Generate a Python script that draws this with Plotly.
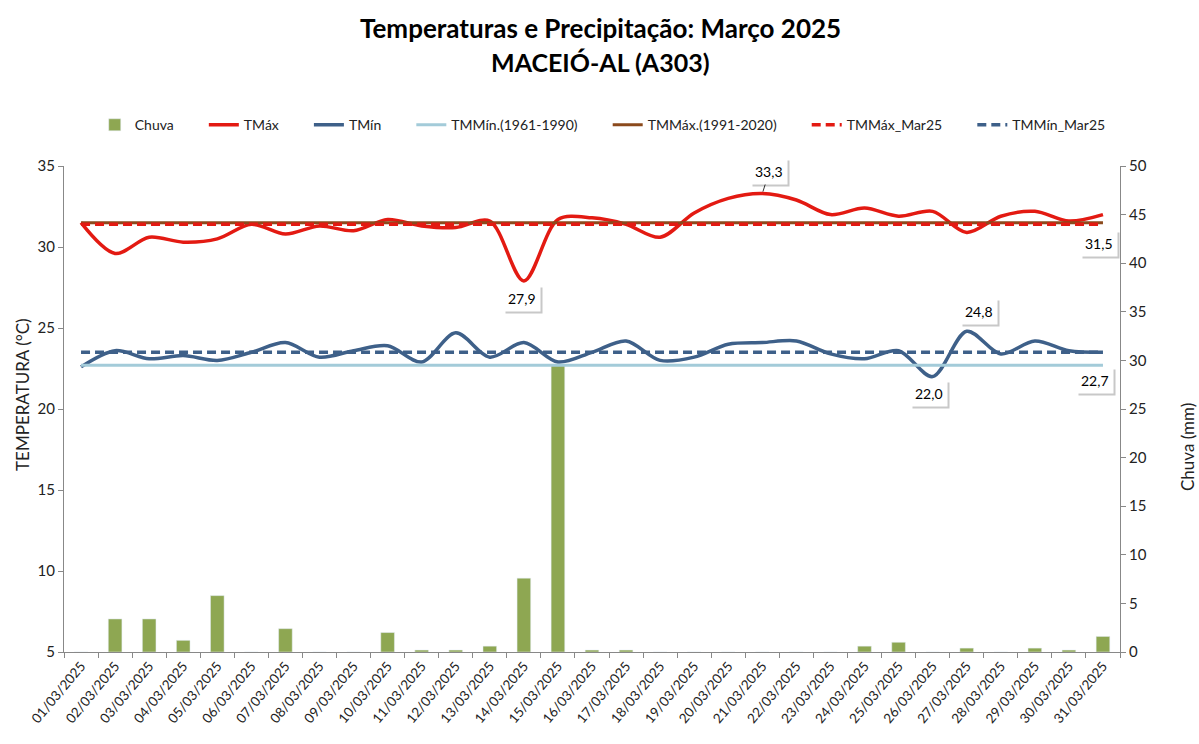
import plotly.graph_objects as go

dates = [f"{d:02d}/03/2025" for d in range(1, 32)]

chuva = [0, 3.4, 3.4, 1.2, 5.8, 0, 2.4, 0, 0, 2.0, 0.2, 0.2, 0.6, 7.6, 29.6,
         0.2, 0.2, 0, 0, 0, 0, 0, 0, 0.6, 1.0, 0, 0.4, 0, 0.4, 0.2, 1.6]

tmax = [31.5, 29.6, 30.6, 30.3, 30.5, 31.4, 30.8, 31.3, 31.0, 31.7, 31.3, 31.2, 31.6, 27.9, 31.7,
        31.8, 31.4, 30.6, 32.1, 33.0, 33.3, 32.9, 32.0, 32.4, 31.9, 32.2, 30.9, 31.9, 32.2, 31.6, 32.0]

tmin = [22.6, 23.6, 23.1, 23.3, 23.0, 23.5, 24.1, 23.2, 23.6, 23.9, 22.9, 24.7, 23.2, 24.1, 22.9,
        23.5, 24.2, 23.0, 23.2, 24.0, 24.1, 24.2, 23.4, 23.1, 23.6, 22.0, 24.8, 23.4, 24.2, 23.6, 23.5]

tmmin_6190 = [22.7] * 31
tmmax_9120 = [31.5] * 31
tmmax_mar25 = [31.4] * 31
tmmin_mar25 = [23.5] * 31

title_lines = ["Temperaturas e Precipitação: Março 2025", "MACEIÓ-AL (A303)"]

# labels: (index, text, series, xshift, yshift)
labels = [
    (13, "27,9", tmax, -2, -17),
    (25, "22,0", tmin, -4, -17),
    (26, "24,8", tmin, 12, 20),
    (30, "31,5", tmmax_9120, -4, -21),
    (30, "22,7", tmmin_6190, -8, -15),
]

FONT = "Lato, 'Open Sans', sans-serif"
NB = "\u00a0"

fig = go.Figure()

fig.add_trace(go.Bar(x=dates, y=chuva, name="Chuva" + NB * 7, marker_color="#8EA752",
                     width=0.4, yaxis="y"))

line_specs = [
    ("TMáx", tmax, "#E31A12", "solid", 3.5, "spline"),
    ("TMín", tmin, "#3E6089", "solid", 3.5, "spline"),
    ("TMMín.(1961-1990)", tmmin_6190, "#A3CBD9", "solid", 3, "linear"),
    ("TMMáx.(1991-2020)", tmmax_9120, "#8B4A1C", "solid", 3, "linear"),
    ("TMMáx_Mar25", tmmax_mar25, "#E31A12", "9px,5px", 3.5, "linear"),
    ("TMMín_Mar25", tmmin_mar25, "#3E6089", "9px,5px", 3.5, "linear"),
]
for name, vals, col, dash, w, shape in line_specs:
    fig.add_trace(go.Scatter(x=dates, y=vals, name=name + NB * 7, mode="lines",
                             line=dict(color=col, width=w, dash=dash, shape=shape,
                                       smoothing=0.9),
                             yaxis="y2"))

annotations = []
# peak label with leader line (shadow first)
annotations.append(dict(x=dates[20], y=tmax[20], xref="x", yref="y2", text="33,3",
                        showarrow=False, xshift=9, yshift=20, bgcolor="#c8c8c8",
                        font=dict(family=FONT, size=14, color="#c8c8c8"), borderpad=4))
annotations.append(dict(x=dates[20], y=tmax[20], xref="x", yref="y2", text="33,3",
                        showarrow=True, ax=7, ay=-22, arrowhead=0, arrowwidth=0.8,
                        arrowcolor="#000", standoff=2, bgcolor="white",
                        font=dict(family=FONT, size=14, color="#000"), borderpad=4))
for idx, txt, series, xs, ys in labels:
    annotations.append(dict(x=dates[idx], y=series[idx], xref="x", yref="y2", text=txt,
                            showarrow=False, xshift=xs + 2, yshift=ys - 2,
                            bgcolor="#c8c8c8", font=dict(family=FONT, size=14, color="#c8c8c8"),
                            borderpad=4))
    annotations.append(dict(x=dates[idx], y=series[idx], xref="x", yref="y2", text=txt,
                            showarrow=False, xshift=xs, yshift=ys,
                            bgcolor="white", font=dict(family=FONT, size=14, color="#000"),
                            borderpad=4))

# title lines
annotations.append(dict(text=f"<b>{title_lines[0]}</b>", x=0.508, y=1.284, xref="paper",
                        yref="paper", showarrow=False, xanchor="center", yanchor="middle",
                        font=dict(family=FONT, size=26, color="#000")))
annotations.append(dict(text=f"<b>{title_lines[1]}</b>", x=0.508, y=1.214, xref="paper",
                        yref="paper", showarrow=False, xanchor="center", yanchor="middle",
                        font=dict(family=FONT, size=25, color="#000")))
# axis titles
annotations.append(dict(text="TEMPERATURA (°C)", x=-0.0398, y=(652 - 394) / 486, xref="paper",
                        yref="paper", showarrow=False, textangle=-90, xanchor="center",
                        yanchor="middle", font=dict(family=FONT, size=17, color="#222")))
annotations.append(dict(text="Chuva (mm)", x=1 + 67 / 1056, y=(652 - 447) / 486, xref="paper",
                        yref="paper", showarrow=False, textangle=-90, xanchor="center",
                        yanchor="middle", font=dict(family=FONT, size=17, color="#222")))

fig.update_layout(
    width=1199, height=744,
    margin=dict(l=64, r=79, t=166, b=92, autoexpand=False),
    paper_bgcolor="white", plot_bgcolor="white",
    font=dict(family=FONT, size=13, color="#222"),
    bargap=0.6,
    showlegend=True,
    legend=dict(orientation="h", x=0.522, xanchor="center", y=1.084, yanchor="middle",
                font=dict(family=FONT, size=14, color="#222"),
                traceorder="normal"),
    xaxis=dict(type="category", showgrid=False, showline=True, linecolor="#888",
               linewidth=1, ticks="outside", tickson="boundaries", ticklen=5,
               tickcolor="#888", tickangle=-50, tickfont=dict(size=13.5, color="#222"),
               range=[-0.5, 30.5], automargin=False),
    yaxis=dict(range=[0, 50], dtick=5, side="right", showgrid=False, showline=True,
               linecolor="#888", ticks="outside", ticklen=5, tickcolor="#888",
               zeroline=False, automargin=False,
               tickfont=dict(size=15, color="#222")),
    yaxis2=dict(range=[5, 35], dtick=5, side="left", overlaying="y", showgrid=False,
                showline=True, linecolor="#888", ticks="outside", ticklen=5,
                tickcolor="#888", zeroline=False, automargin=False,
                tickfont=dict(size=15, color="#222")),
    annotations=annotations,
)

fig.write_html("out.html", config={"displayModeBar": False},
               post_script="document.body.style.margin='0';document.body.style.overflow='hidden';")
